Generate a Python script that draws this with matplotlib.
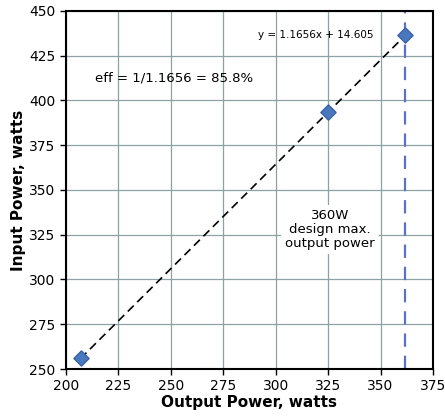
import matplotlib.pyplot as plt
import numpy as np

# measured points (output W, input W)
out_w = [207, 325, 361.5]
in_w = [256, 393.5, 436.5]
slope = 1.1656
intercept = 14.605
design_max = 361.5

xticks = [200, 225, 250, 275, 300, 325, 350, 375]
yticks = [250, 275, 300, 325, 350, 375, 400, 425, 450]

fig = plt.figure(figsize=(4.45, 4.17), dpi=100)
ax = fig.add_axes([0.148, 0.115, 0.825, 0.859])

ax.set_xlim(200, 375)
ax.set_ylim(250, 450)
ax.set_xticks(xticks)
ax.set_yticks(yticks)
ax.grid(True, color='#8fa2a2', linewidth=0.9)
ax.set_axisbelow(True)

# trend line through the data
xf = np.array([out_w[0], out_w[-1]])
ax.plot(xf, slope * xf + intercept, '--', color='black', lw=1.2, dashes=(5, 3), zorder=3)
ax.scatter(out_w, in_w, marker='D', s=60, color='#4a78be', edgecolor='#3a62a8', zorder=4)

# design max line
ax.axvline(design_max, color='#5b72c4', lw=1.6, dashes=(6, 4), zorder=2)

ax.text(319, 436.6, 'y = 1.1656x + 14.605', fontsize=7.5, ha='center', va='center')
ax.text(213.8, 412.6, 'eff = 1/1.1656 = 85.8%', fontsize=9.5, ha='left', va='center')
ax.text(326, 328, '360W\ndesign max.\noutput power', fontsize=9.5, ha='center', va='center',
        linespacing=1.1, bbox=dict(facecolor='white', edgecolor='none', pad=3))

ax.set_xlabel('Output Power, watts', fontsize=11, fontweight='bold', labelpad=1)
ax.set_ylabel('Input Power, watts', fontsize=11, fontweight='bold', labelpad=2)
ax.tick_params(labelsize=10, length=4, width=1)
for s in ax.spines.values():
    s.set_linewidth(1.5)

fig.savefig('out.png', dpi=100)
